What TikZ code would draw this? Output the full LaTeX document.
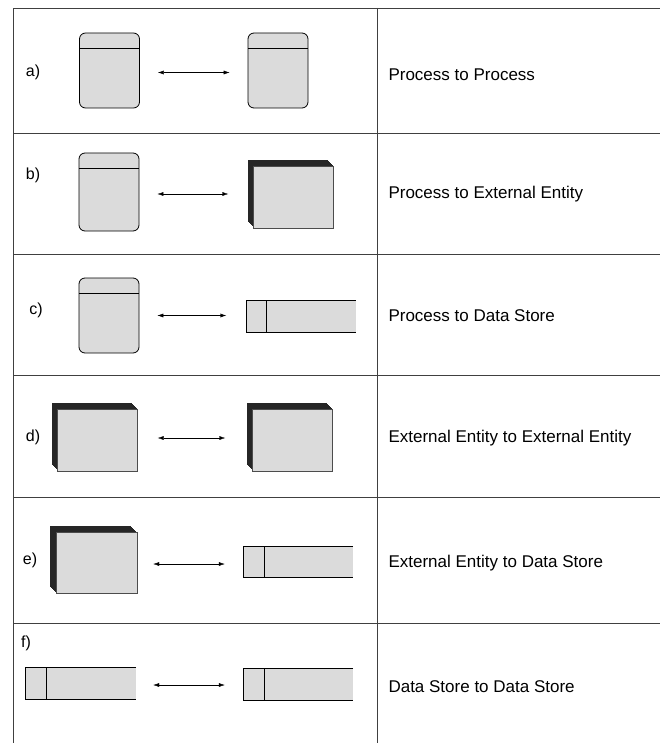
\documentclass[tikz,border=0pt]{standalone}
\usepackage{fontspec}
\setmainfont{Liberation Sans}
\usetikzlibrary{shadows,arrows.meta}

\tikzset{
	process/.style={draw, thick, rounded corners=6pt, fill=gray!28, minimum width=60pt, minimum height=75pt,
		path picture={\draw[thick] ([yshift=-15pt]path picture bounding box.north west) -- ([yshift=-15pt]path picture bounding box.north east);}},
	slab/.style={general shadow={shadow xshift=#1, shadow yshift=-#1, fill=black!85}},
	entity/.style={draw=gray!60!black, fill=gray!28, minimum width=80pt, minimum height=62pt,
		slab=-6pt, slab=-5pt, slab=-4pt, slab=-3pt, slab=-2pt, slab=-1pt},
	store/.style={fill=gray!28, minimum width=109pt, minimum height=31pt,
		path picture={\draw[thick] ([xshift=20pt]path picture bounding box.north west) -- ([xshift=20pt]path picture bounding box.south west);}},
	link/.style={{Latex[length=6pt,width=4pt]}-{Latex[length=6pt,width=4pt]}},
	rule/.style={draw=black!75, line width=0.9pt},
	case/.style={anchor=west, font=\fontsize{17}{20}\selectfont},
	tag/.style={font=\fontsize{16}{19}\selectfont}
}

\begin{document}
\begin{tikzpicture}[x=1pt, y=-1pt]
		\useasboundingbox (0,0) rectangle (660,743);
		\draw[rule] (13,743) -- (13,8) -- (660,8);
		\draw[rule] (377,8) -- (377,743);
		\foreach \y in {133,254,375,497,623} {
			\draw[rule] (13,\y) -- (660,\y);
		}

		\node[tag] (la) at (33,72) {a)};
		\node[process] (pa1) at (109.5,70.5) {};
		\node[process] (pa2) at (278,70.5) {};
		\draw[link, shorten <=18pt, shorten >=18pt] ([yshift=-2pt]pa1.east) -- ([yshift=-2pt]pa1.east -| pa2.west);
		\node[case] (ta) at (385,75) {Process to Process};

		\node[tag] (lb) at (33,175) {b)};
		\node[process, minimum height=78pt] (pb) at (109,192) {};
		\node[entity] (eb) at (293.5,197) {};
		\draw[link, shorten <=18pt, shorten >=25pt] ([yshift=-2pt]pb.east) -- ([yshift=-2pt]pb.east -| eb.west);
		\node[case] (tb) at (385,194) {Process to External Entity};

		\node[tag] (lc) at (36,310) {c)};
		\node[process] (pc) at (109,315.5) {};
		\node[store] (sc) at (301,316.5) {};
		\draw[thick] (sc.north east) -- (sc.north west) -- (sc.south west) -- (sc.south east);
		\draw[link, shorten <=18pt, shorten >=20pt] (pc.east) -- (pc.east -| sc.west);
		\node[case] (tc) at (385,316) {Process to Data Store};

		\node[tag] (ld) at (33,437) {d)};
		\node[entity] (ed1) at (97.5,440) {};
		\node[entity] (ed2) at (292.5,440) {};
		\draw[link, shorten <=20pt, shorten >=27pt] ([yshift=2pt]ed1.east) -- ([yshift=2pt]ed1.east -| ed2.west);
		\node[case] (td) at (385,438) {External Entity to External Entity};

		\node[tag] (le) at (30,560) {e)};
		\node[entity, minimum width=81pt, minimum height=61pt] (ee) at (96.5,562.5) {};
		\node[store] (se) at (298.5,562) {};
		\draw[thick] (se.north east) -- (se.north west) -- (se.south west) -- (se.south east);
		\draw[link, shorten <=16pt, shorten >=19pt] ([yshift=-1.5pt]ee.east) -- ([yshift=-1.5pt]ee.east -| se.west);
		\node[case] (te) at (385,563) {External Entity to Data Store};

		\node[tag] (lf) at (26,643) {f)};
		\node[store, minimum width=110pt] (sf1) at (81,683.5) {};
		\draw[thick] (sf1.north east) -- (sf1.north west) -- (sf1.south west) -- (sf1.south east);
		\node[store] (sf2) at (298.5,684.5) {};
		\draw[thick] (sf2.north east) -- (sf2.north west) -- (sf2.south west) -- (sf2.south east);
		\draw[link, shorten <=17pt, shorten >=19pt] ([yshift=-1.5pt]sf1.east) -- ([yshift=-1.5pt]sf1.east -| sf2.west);
		\node[case] (tf) at (385,687) {Data Store to Data Store};
\end{tikzpicture}
\end{document}
